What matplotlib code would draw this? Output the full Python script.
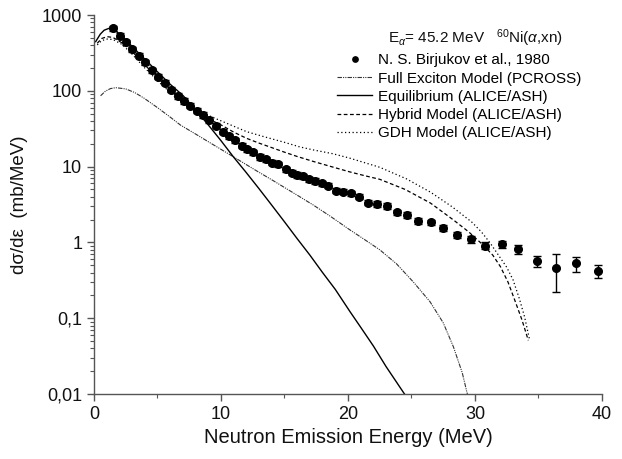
import matplotlib
matplotlib.use("Agg")
import matplotlib.pyplot as plt
from matplotlib.ticker import NullFormatter, LogLocator

plt.rcParams['font.family'] = ['Liberation Sans', 'DejaVu Sans']
plt.rcParams['mathtext.fontset'] = 'custom'
plt.rcParams['mathtext.rm'] = 'Liberation Sans'
plt.rcParams['mathtext.it'] = 'Liberation Sans:italic'

# experimental data (N. S. Birjukov et al., 1980)
exp_e = [1.52, 2.05, 2.50, 3.02, 3.54, 4.02, 4.54, 5.06, 5.59, 6.06, 6.59, 7.11,
         7.56, 8.09, 8.61, 9.08, 9.61, 10.13, 10.65, 11.10, 11.63, 12.02, 12.50,
         13.07, 13.54, 13.99, 14.51, 15.12, 15.57, 15.96, 16.48, 16.95, 17.40,
         17.93, 18.45, 19.06, 19.58, 20.21, 20.89, 21.55, 22.26, 23.05, 23.83,
         24.67, 25.54, 26.51, 27.50, 28.56, 29.69, 30.79, 32.10, 33.41, 34.86,
         36.38, 37.95, 39.71]
exp_y = [668, 533, 437, 356, 290, 238, 188, 153, 128, 103, 86, 74,
         63.6, 54.6, 48, 41.2, 34.7, 28.9, 25.3, 22.4, 18.9, 16.9, 15.4,
         13.5, 12.5, 11.3, 10.7, 9.2, 8.3, 7.75, 7.5, 6.8, 6.45,
         6.0, 5.6, 4.8, 4.67, 4.44, 4.01, 3.34, 3.21, 3.02, 2.49,
         2.30, 1.91, 1.84, 1.56, 1.25, 1.10, 0.91, 0.95, 0.81, 0.57,
         0.46, 0.53, 0.42]
exp_err = [53, 43, 35, 28, 23, 19, 15, 12, 10, 8, 7, 6,
           5, 4.4, 3.8, 3.3, 2.8, 2.3, 2.0, 1.8, 1.5, 1.35, 1.2,
           1.1, 1.0, 0.9, 0.85, 0.75, 0.66, 0.62, 0.6, 0.55, 0.52,
           0.48, 0.45, 0.38, 0.37, 0.36, 0.32, 0.27, 0.26, 0.25, 0.21,
           0.2, 0.17, 0.16, 0.14, 0.12, 0.11, 0.09, 0.1, 0.11, 0.095,
           0.235, 0.12, 0.085]

# Full Exciton Model (PCROSS)
fe_e = [0.52, 0.9, 1.3, 1.71, 2.5, 3.2, 3.94, 5.0, 6.0, 6.8, 8.0, 9.0, 10.0,
        10.97, 12.0, 13.0, 14.0, 15.0, 16.0, 17.27, 18.58, 20.16, 21.2, 22.5,
        23.83, 25.15, 26.46, 27.5, 28.3, 29.0, 29.4]
fe_y = [86, 99, 107, 110, 106, 95, 80, 60, 45, 35.4, 26.9, 21.3, 16.9,
        13.5, 10.6, 8.4, 6.7, 5.3, 4.2, 3.11, 2.23, 1.46, 1.12, 0.80,
        0.52, 0.30, 0.165, 0.087, 0.042, 0.019, 0.01]

# Equilibrium (ALICE/ASH)
eq_e = [0.13, 0.5, 0.8, 1.18, 1.6, 2.2, 3.0, 4.0, 5.0, 6.0, 7.03, 8.0, 9.0,
        10.0, 10.97, 12.0, 13.0, 13.99, 15.0, 16.0, 17.0, 18.0, 19.0, 20.16,
        21.0, 22.0, 23.0, 24.45]
eq_y = [445, 560, 630, 667, 640, 530, 385, 262, 178, 122, 86, 56, 35.5,
        22, 13.5, 8.3, 5.1, 3.11, 1.87, 1.12, 0.68, 0.40, 0.24, 0.122,
        0.076, 0.043, 0.023, 0.01]

# Hybrid Model (ALICE/ASH)
hy_e = [0.26, 0.6, 1.05, 1.5, 2.2, 3.0, 3.94, 5.25, 6.5, 7.82, 9.0, 10.0, 11.0,
        12.02, 13.0, 14.0, 15.0, 16.0, 17.27, 18.5, 20.16, 21.3, 22.5, 24.5,
        26.5, 28.3, 29.5, 30.65, 31.4, 32.0, 32.6, 33.15, 33.7, 34.2]
hy_y = [424, 490, 518, 505, 430, 330, 225, 135, 85, 56, 42.7, 35.5, 28.5,
        23.6, 20.4, 17.8, 15.5, 13.6, 11.7, 10.2, 8.5, 7.6, 6.8, 5.0,
        3.3, 1.98, 1.38, 0.92, 0.68, 0.48, 0.30, 0.17, 0.095, 0.051]

# GDH Model (ALICE/ASH)
gdh_e = [0.26, 0.6, 1.05, 1.5, 2.2, 3.0, 3.94, 5.25, 6.5, 8.35, 9.5, 10.5,
         12.02, 13.5, 15.0, 16.2, 17.27, 18.8, 20.16, 22.5, 24.6, 26.5, 28.2,
         29.74, 30.5, 31.2, 31.9, 32.5, 33.0, 33.5, 33.9, 34.3]
gdh_y = [403, 460, 482, 475, 410, 305, 205, 124, 80, 53, 43.6, 37,
         28.9, 24.5, 20.9, 18.2, 16.6, 14.8, 12.9, 9.8, 6.9, 4.6, 2.95,
         1.86, 1.38, 0.98, 0.66, 0.47, 0.32, 0.18, 0.105, 0.052]

yticks = [0.01, 0.1, 1, 10, 100, 1000]
ytick_labels = ['0,01', '0,1', '1', '10', '100', '1000']

fig = plt.figure(figsize=(6.22, 4.59), dpi=100)
ax = fig.add_axes([0.1511, 0.1416, 0.8167, 0.8257])

ax.errorbar(exp_e, exp_y, yerr=exp_err, fmt='none', ecolor='black',
            elinewidth=1, capsize=3, capthick=1)
ax.plot(exp_e, exp_y, 'o', color='black', markersize=5.5,
        label='N. S. Birjukov et al., 1980')
ax.plot(fe_e, fe_y, color='#333333', lw=0.8, ls=(0, (4, 1, 1, 1, 1, 1)),
        label='Full Exciton Model (PCROSS)')
ax.plot(eq_e, eq_y, color='black', lw=1.0, ls='-',
        label='Equilibrium (ALICE/ASH)')
ax.plot(hy_e, hy_y, color='black', lw=0.9, ls=(0, (3, 2)),
        label='Hybrid Model (ALICE/ASH)')
ax.plot(gdh_e, gdh_y, color='black', lw=0.9, ls=(0, (1, 2)),
        label='GDH Model (ALICE/ASH)')

ax.set_yscale('log')
ax.set_xlim(0, 40)
ax.set_ylim(0.01, 1000)
ax.set_xticks([0, 10, 20, 30, 40])
ax.set_xticks([5, 15, 25, 35], minor=True)
ax.set_yticks(yticks)
ax.set_yticklabels(ytick_labels)
ax.yaxis.set_minor_locator(LogLocator(base=10, subs=range(2, 10)))
ax.yaxis.set_minor_formatter(NullFormatter())

for s in ['top', 'right']:
    ax.spines[s].set_visible(False)
for s in ['left', 'bottom']:
    ax.spines[s].set_color('#555555')
    ax.spines[s].set_linewidth(1.0)
ax.tick_params(which='major', direction='out', length=5, width=1,
               color='#555555', labelsize=13, labelcolor='#111111')
ax.tick_params(which='minor', direction='out', length=3, width=0.8,
               color='#555555')

ax.set_xlabel('Neutron Emission Energy (MeV)', fontsize=14.5, color='#111111')
ax.set_ylabel('dσ/dε  (mb/MeV)', fontsize=13.5, color='#111111', labelpad=10)

leg = ax.legend(loc='upper left', bbox_to_anchor=(0.542, 0.884),
                bbox_transform=fig.transFigure, frameon=False, fontsize=11,
                handlelength=2.3, handletextpad=0.35, labelspacing=0.28,
                borderpad=0, borderaxespad=0, numpoints=1, markerscale=0.7)

fig.text(0.765, 0.906, r'E$_{\alpha}$= 45.2 MeV   $^{60}$Ni($\alpha$,xn)',
         fontsize=11, ha='center', va='baseline', color='#111111')

fig.savefig('out.png', dpi=100)
